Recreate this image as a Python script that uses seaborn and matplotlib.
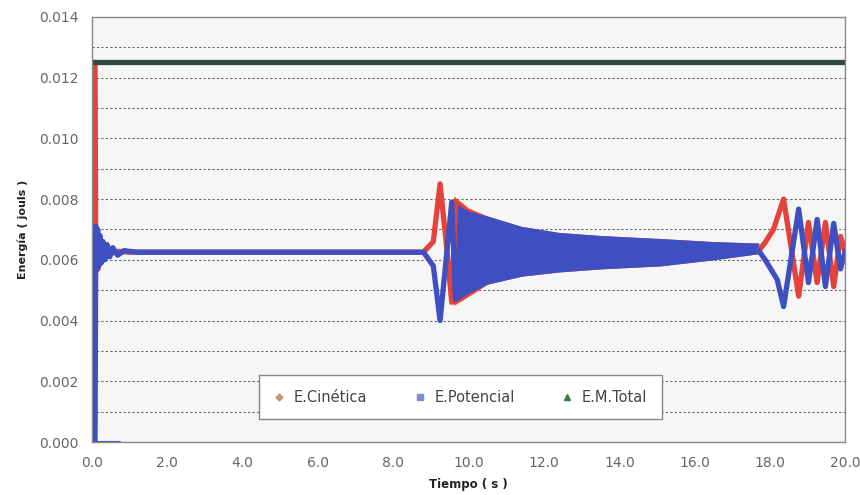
import pandas as pd
import seaborn as sns
import matplotlib.pyplot as plt
from matplotlib.lines import Line2D
from matplotlib.ticker import MultipleLocator, FormatStrFormatter

# Values (time in s, energy in J)
# Kinetic energy: start + first swing, then second disturbance
k_t1 = [0.02, 0.08, 0.1, 0.13, 0.16, 0.19, 0.23, 0.28, 0.33, 0.4, 0.5, 0.7, 1.0,
        3.0, 6.0, 8.8, 9.06, 9.24, 9.4, 9.55, 9.65]
k_e1 = [0.0125, 0.0125, 0.0056, 0.0070, 0.0057, 0.0068, 0.0059, 0.0066, 0.0061,
        0.0064, 0.0062, 0.00628, 0.00625, 0.00625, 0.00625, 0.00625, 0.0066,
        0.0085, 0.0066, 0.0046, 0.0079]
k_t2 = [17.7, 17.87, 18.09, 18.36, 18.76, 19.02, 19.25, 19.47, 19.69, 19.87, 20.0]
k_e2 = [0.0063, 0.00657, 0.0070, 0.0080, 0.0048, 0.00723, 0.00525, 0.00723,
        0.00512, 0.00677, 0.00624]

# Potential energy
p_base_t = [0.0, 0.75]
p_base_e = [0.0, 0.0]
p_t1 = [0.08, 0.1, 0.12, 0.15, 0.18, 0.21, 0.25, 0.29, 0.34, 0.4, 0.47,
        0.55, 0.68, 0.85, 1.2, 3.0, 6.0, 8.8, 9.06, 9.24, 9.4, 9.55, 9.65]
p_e1 = [0.0, 0.0071, 0.0057, 0.0070, 0.0058, 0.0068, 0.0059, 0.0066,
        0.0060, 0.0065, 0.0061, 0.0064, 0.00615, 0.0063, 0.00625, 0.00625,
        0.00625, 0.00625, 0.0058, 0.0040, 0.0060, 0.0079, 0.0047]
p_t2 = [17.7, 17.87, 18.19, 18.36, 18.76, 19.02, 19.25, 19.47, 19.69, 19.87, 20.0]
p_e2 = [0.0063, 0.0060, 0.00535, 0.00446, 0.00767, 0.00525, 0.00733, 0.00512,
        0.0072, 0.0057, 0.0063]

# Envelope of the fast oscillation between ~9.6 s and ~17.7 s
env_t = [9.6, 10.0, 10.5, 11.4, 12.4, 13.5, 15.1, 16.5, 17.7]
k_hi = [0.0081, 0.0077, 0.00744, 0.0071, 0.0069, 0.0068, 0.0067, 0.0066, 0.00655]
k_lo = [0.0045, 0.0048, 0.0052, 0.00546, 0.0056, 0.0057, 0.0058, 0.0060, 0.0062]
p_hi = [0.0079, 0.0076, 0.00744, 0.0071, 0.0069, 0.0068, 0.0067, 0.0066, 0.00655]
p_lo = [0.0046, 0.0049, 0.0052, 0.00546, 0.0056, 0.0057, 0.0058, 0.0060, 0.0062]

# Total mechanical energy
tot_t = [0.0, 20.0]
tot_e = [0.0125, 0.0125]

x_ticks = [0, 2, 4, 6, 8, 10, 12, 14, 16, 18, 20]

red = '#e4433c'
blue = '#3e4fc2'
green = '#2d4a3c'

df_k = pd.concat([pd.DataFrame({'t': k_t1, 'e': k_e1, 'seg': 0}),
                  pd.DataFrame({'t': k_t2, 'e': k_e2, 'seg': 1})])
df_p = pd.concat([pd.DataFrame({'t': p_t1, 'e': p_e1, 'seg': 0}),
                  pd.DataFrame({'t': p_t2, 'e': p_e2, 'seg': 1})])
df_tot = pd.DataFrame({'t': tot_t, 'e': tot_e})

sns.set_style('white')
plt.rcParams['font.family'] = ['DejaVu Sans']

fig = plt.figure(figsize=(8.6, 4.95), dpi=100)
ax = fig.add_axes([0.107, 0.107, 0.876, 0.859])
ax.set_facecolor('#f6f6f6')

# grid every 0.001
ax.yaxis.set_major_locator(MultipleLocator(0.002))
ax.yaxis.set_minor_locator(MultipleLocator(0.001))
ax.yaxis.set_major_formatter(FormatStrFormatter('%.3f'))
ax.grid(True, which='both', axis='y', color='#666666', linestyle=(0, (2, 2)), lw=0.8)
ax.set_axisbelow(True)

sns.lineplot(data=df_k, x='t', y='e', units='seg', estimator=None, sort=False,
             color=red, lw=3.8, ax=ax, legend=False)
ax.fill_between(env_t, k_lo, k_hi, color=red, lw=0)
ax.fill_between(env_t, p_lo, p_hi, color=blue, lw=0)
sns.lineplot(x=p_base_t, y=p_base_e, color=blue, lw=1.5, ax=ax, legend=False)
sns.lineplot(data=df_p, x='t', y='e', units='seg', estimator=None, sort=False,
             color=blue, lw=3.8, ax=ax, legend=False)
sns.lineplot(data=df_tot, x='t', y='e', color=green, lw=3.8, ax=ax, legend=False)

ax.set_xlim(0, 20)
ax.set_ylim(0, 0.014)
ax.set_xticks(x_ticks)
ax.set_xticklabels([f'{v:.1f}' for v in x_ticks])
ax.tick_params(axis='both', which='major', labelsize=10, labelcolor='#666666',
               length=4, color='#888888', direction='out')
ax.tick_params(axis='y', which='minor', length=0)
ax.tick_params(axis='y', pad=6)
ax.tick_params(axis='x', pad=6)

for s in ax.spines.values():
    s.set_color('#8a8a8a')
    s.set_linewidth(1.0)

ax.set_xlabel('Tiempo ( s )', fontsize=8.5, fontweight='bold', color='#222222', labelpad=6)
ax.set_ylabel('Energía ( jouls )', fontsize=8, fontweight='bold', color='#222222', labelpad=8)

handles = [
    Line2D([], [], linestyle='none', marker='D', markersize=3.5, color='#c8956a'),
    Line2D([], [], linestyle='none', marker='s', markersize=4, color='#7b8fd6'),
    Line2D([], [], linestyle='none', marker='^', markersize=4, color='#3a7a4a'),
]
leg = ax.legend(handles, ['E.Cinética', 'E.Potencial', 'E.M.Total'],
                loc='center', bbox_to_anchor=(0.489, 0.105), ncol=3,
                fontsize=10.5, handlelength=0.8, handletextpad=0.6,
                columnspacing=3.2, borderpad=1.0, fancybox=False,
                framealpha=1, edgecolor='#888888')
for t in leg.get_texts():
    t.set_color('#444444')

fig.savefig('out.png', dpi=100, facecolor='white')
